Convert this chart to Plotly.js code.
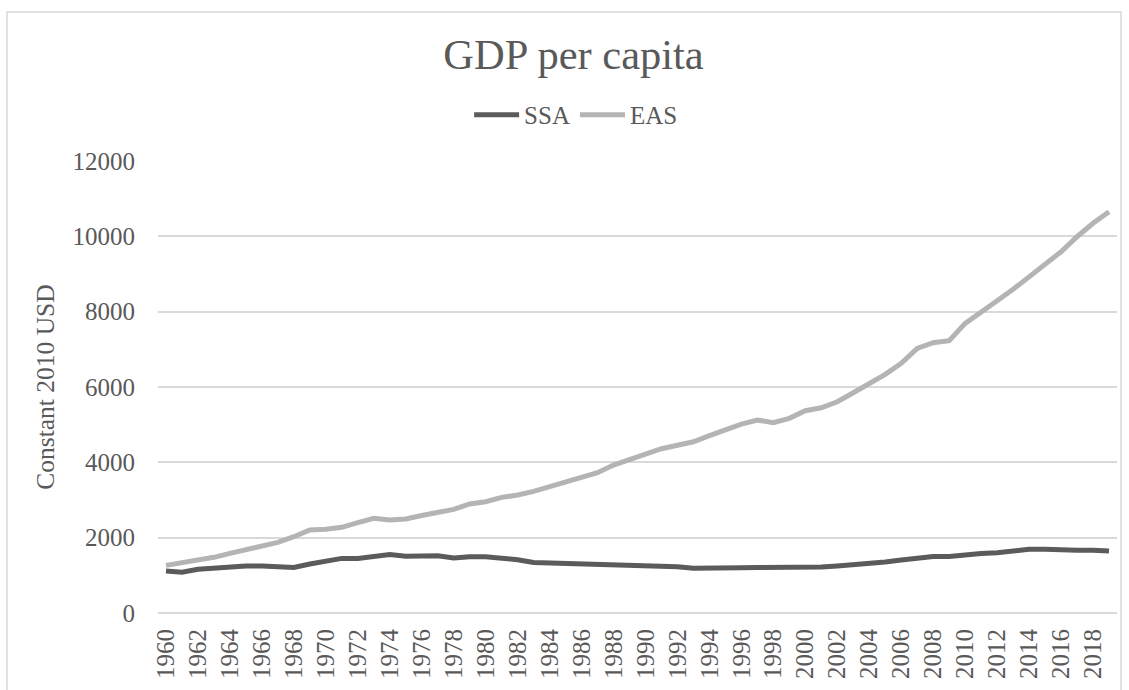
<!DOCTYPE html>
<html>
<head>
<meta charset="utf-8">
<script src="https://cdn.plot.ly/plotly-3.0.1.min.js"></script>
<style>
  html, body { margin: 0; padding: 0; background: #ffffff; }
  #chart { width: 1129px; height: 690px; }
</style>
</head>
<body>
<div id="chart"></div>
<script>
const years = [1960,1961,1962,1963,1964,1965,1966,1967,1968,1969,
               1970,1971,1972,1973,1974,1975,1976,1977,1978,1979,
               1980,1981,1982,1983,1984,1985,1986,1987,1988,1989,
               1990,1991,1992,1993,1994,1995,1996,1997,1998,1999,
               2000,2001,2002,2003,2004,2005,2006,2007,2008,2009,
               2010,2011,2012,2013,2014,2015,2016,2017,2018,2019];

const ssa = [1115,1085,1160,1195,1220,1250,1250,1215,1210,1300,
             1390,1450,1450,1485,1550,1505,1525,1520,1460,1495,
             1495,1470,1415,1340,1330,1300,1290,1285,1285,1285,
             1280,1262,1230,1186,1180,1180,1200,1205,1205,1200,
             1205,1222,1248,1278,1322,1352,1405,1460,1500,1502,
             1550,1580,1600,1655,1690,1695,1672,1668,1668,1645];

const eas = [1265,1336,1407,1478,1584,1672,1760,1876,2026,2203,
             2222,2275,2398,2513,2469,2495,2590,2663,2752,2894,
             2955,3071,3132,3230,3353,3486,3575,3725,3929,4080,
             4221,4362,4452,4547,4707,4858,5017,5123,5052,5168,
             5371,5450,5609,5848,6097,6336,6628,7027,7176,7229,
             7690,7972,8291,8593,8912,9238,9591,9990,10345,10653];

const xTickYears = [1960,1962,1964,1966,1968,1970,1972,1974,1976,1978,
                    1980,1982,1984,1986,1988,1990,1992,1994,1996,1998,
                    2000,2002,2004,2006,2008,2010,2012,2014,2016,2018];
const yTicks = [0,2000,4000,6000,8000,10000,12000];

const seriesNames = ['SSA', 'EAS'];
const chartTitle = 'GDP per capita';
const yTitle = 'Constant 2010 USD';

const FONT = 'Liberation Serif, Times New Roman, serif';
const TXT = '#595959';

const traces = [
  { x: years, y: ssa, name: seriesNames[0], type: 'scatter', mode: 'lines',
    line: { color: '#5b5b5b', width: 5 }, hoverinfo: 'skip' },
  { x: years, y: eas, name: seriesNames[1], type: 'scatter', mode: 'lines',
    line: { color: '#b4b4b4', width: 5 }, hoverinfo: 'skip' }
];

const layout = {
  width: 1129, height: 690,
  margin: { l: 158, r: 12, t: 161, b: 77, pad: 0 },
  paper_bgcolor: '#ffffff', plot_bgcolor: '#ffffff',
  font: { family: FONT, color: TXT, size: 25 },
  title: { text: chartTitle, font: { family: FONT, size: 42.5, color: TXT },
           xref: 'container', x: 0.508, xanchor: 'center',
           yref: 'container', y: 1 - 54/690, yanchor: 'middle' },
  showlegend: true,
  legend: { orientation: 'h', x: 0.436, xanchor: 'center', y: 1.102, yanchor: 'middle',
            font: { family: FONT, size: 25, color: TXT }, itemwidth: 45,
            bgcolor: 'rgba(0,0,0,0)' },
  xaxis: {
    range: [1959.5, 2019.5], tickmode: 'array', tickvals: xTickYears,
    ticktext: xTickYears.map(String), tickangle: -90,
    showgrid: false, zeroline: false, showline: false, ticks: '',
    tickfont: { family: FONT, size: 25, color: TXT }, ticklabelstandoff: 10,
    fixedrange: true
  },
  yaxis: {
    range: [0, 12000], tickmode: 'array', tickvals: yTicks,
    ticktext: yTicks.map(String),
    showgrid: true, gridcolor: '#d9d9d9', gridwidth: 1.7,
    zeroline: true, zerolinecolor: '#d9d9d9', zerolinewidth: 1.7,
    showline: false, ticks: '',
    tickfont: { family: FONT, size: 25, color: TXT }, ticklabelstandoff: 22,
    title: { text: yTitle, font: { family: FONT, size: 25.5, color: TXT }, standoff: 10 },
    fixedrange: true
  },
  shapes: [
    { type: 'rect', xref: 'paper', yref: 'paper',
      x0: (7 - 158)/959, x1: (1121 - 158)/959,
      y0: (613 - 720)/452, y1: (613 - 12)/452,
      line: { color: '#d9d9d9', width: 1.5 }, fillcolor: 'rgba(0,0,0,0)', layer: 'below' }
  ]
};

Plotly.newPlot('chart', traces, layout, { displayModeBar: false, staticPlot: true });
</script>
</body>
</html>
